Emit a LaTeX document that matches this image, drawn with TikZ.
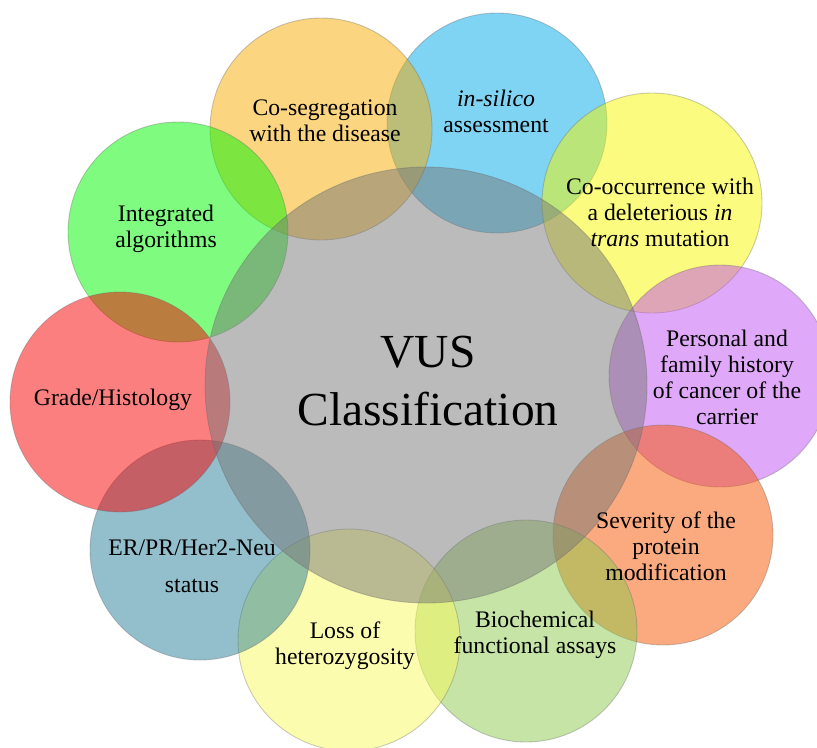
\documentclass[tikz,border=0pt]{standalone}
\usepackage{fontspec}
\setmainfont{Liberation Serif}
\usepackage{tikz}
\usetikzlibrary{positioning}
\definecolor{mgray}{RGB}{119,119,119}
\definecolor{morange}{RGB}{247,171,0}
\definecolor{mblue}{RGB}{0,167,231}
\definecolor{myellow}{RGB}{247,247,0}
\definecolor{mpurple}{RGB}{193,81,241}
\definecolor{mcoral}{RGB}{247,85,0}
\definecolor{mlime}{RGB}{139,201,77}
\definecolor{mpale}{RGB}{249,249,93}
\definecolor{mteal}{RGB}{39,127,153}
\definecolor{mred}{RGB}{247,0,0}
\definecolor{mgreen}{RGB}{0,247,0}

\tikzset{
  disc/.style={fill opacity=0.5, draw=black!60, draw opacity=0.35, line width=0.5pt},
  lbl/.style={align=center, font=\fontsize{13.5}{14.8}\selectfont, inner sep=0pt}
}

\begin{document}
\begin{tikzpicture}[x=0.02cm, y=-0.02cm]
    \clip (0, 0) rectangle (817, 747);

    % outer ring, stacking order matters for the overlaps
    \filldraw [disc, fill=mblue] (497, 123) circle (110);
    \filldraw [disc, fill=myellow] (652, 203) circle (110);
    \filldraw [disc, fill=mpurple] (720, 376) circle (111);
    \filldraw [disc, fill=mcoral] (663, 535) circle (110);
    \filldraw [disc, fill=mlime] (526, 631) circle (111);
    \filldraw [disc, fill=mpale] (349, 640) circle (111);
    \filldraw [disc, fill=mteal] (200, 550) circle (110);
    \filldraw [disc, fill=morange] (321, 129) circle (111);
    \filldraw [disc, fill=mgreen] (178, 232) circle (110);
    \filldraw [disc, fill=mred] (120, 402) circle (110);

    % centre
    \filldraw [disc, fill=mgray] (426, 385) ellipse (221 and 218);

    \node [align=center, font=\fontsize{27}{33}\selectfont, inner sep=0pt] (vus) at (428, 381) {VUS\\Classification};

    \node [lbl] (coseg) at (325, 121) {Co-segregation\\with the disease};
    \node [lbl] (silico) at (496, 111) {\textit{in-silico}\\assessment};
    \node [lbl] (cooc) at (660, 212) {Co-occurrence with\\a deleterious \textit{in}\\\textit{trans} mutation};
    \node [lbl] (hist) at (727, 377) {Personal and\\family history\\of cancer of the\\carrier};
    \node [lbl] (sever) at (666, 546) {Severity of the\\protein\\modification};
    \node [lbl] (bioch) at (535, 635) {Biochemical\\functional assays};
    \node [lbl] (loh) at (345, 646) {Loss of\\heterozygosity};
    \node [lbl] (erpr) at (192, 566) {ER/PR/Her2-Neu\\[6pt]status};
    \node [lbl] (grade) at (113, 400) {Grade/Histology};
    \node [lbl] (algo) at (166, 229) {Integrated\\algorithms};
\end{tikzpicture}
\end{document}
